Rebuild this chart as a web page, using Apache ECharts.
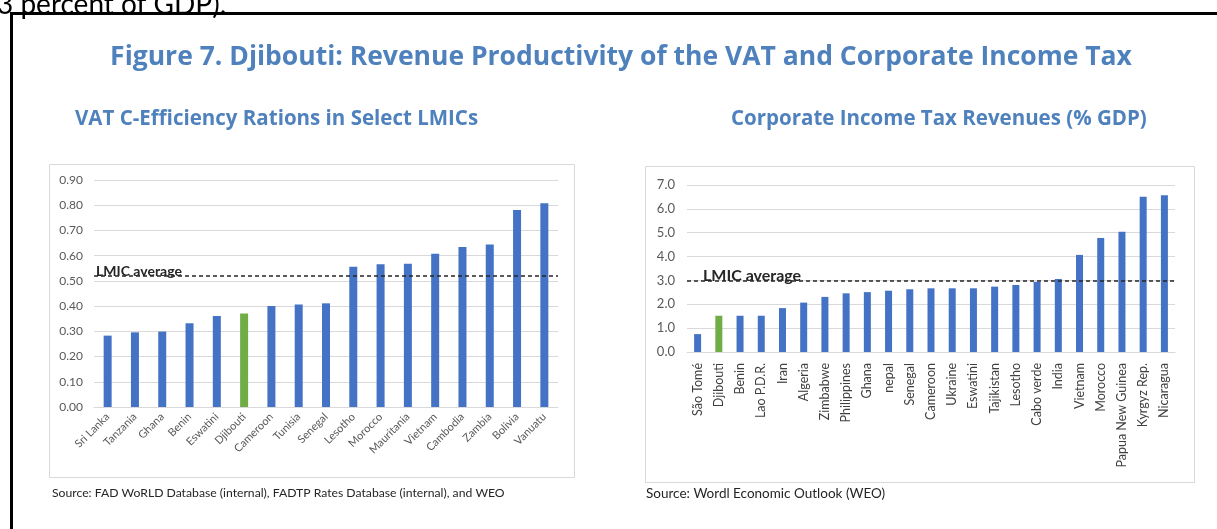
<!DOCTYPE html>
<html>
<head>
<meta charset="utf-8">
<title>Figure 7. Djibouti</title>
<script src="https://cdn.jsdelivr.net/npm/echarts@6/dist/echarts.min.js"></script>
<style>
    html, body { margin: 0; padding: 0; background: #ffffff; }
    #chart { width: 1217px; height: 529px; }
</style>
</head>
<body>
<div id="chart"></div>
<script>
// Данные: левый график (VAT C-efficiency)
const vatCountries = ['Sri Lanka', 'Tanzania', 'Ghana', 'Benin', 'Eswatini', 'Djibouti', 'Cameroon', 'Tunisia',
    'Senegal', 'Lesotho', 'Morocco', 'Mauritania', 'Vietnam', 'Cambodia', 'Zambia', 'Bolivia', 'Vanuatu'];
const vatValues = [0.283, 0.296, 0.299, 0.332, 0.361, 0.371, 0.400, 0.406,
    0.411, 0.556, 0.566, 0.568, 0.608, 0.634, 0.644, 0.781, 0.808];
const vatTicks = ['0.00', '0.10', '0.20', '0.30', '0.40', '0.50', '0.60', '0.70', '0.80', '0.90'];
const vatAverage = 0.52;

// Данные: правый график (CIT, % ВВП)
const citCountries = ['São Tomé', 'Djibouti', 'Benin', 'Lao P.D.R.', 'Iran', 'Algeria', 'Zimbabwe', 'Philippines',
    'Ghana', 'nepal', 'Senegal', 'Cameroon', 'Ukraine', 'Eswatini', 'Tajikistan', 'Lesotho', 'Cabo verde',
    'India', 'Vietnam', 'Morocco', 'Papua New Guinea', 'Kyrgyz Rep.', 'Nicaragua'];
const citValues = [0.75, 1.52, 1.52, 1.52, 1.84, 2.07, 2.31, 2.46,
    2.51, 2.57, 2.63, 2.67, 2.67, 2.67, 2.74, 2.81, 2.94,
    3.06, 4.07, 4.78, 5.04, 6.51, 6.57];
const citTicks = ['0.0', '1.0', '2.0', '3.0', '4.0', '5.0', '6.0', '7.0'];
const citAverage = 3.0;

const HIGHLIGHT = 'Djibouti';
const BLUE = '#4472c4';
const GREEN = '#70ad47';
const GRID_COLOR = '#d9d9d9';
const TITLE_BLUE = '#4f81bd';

function barData(names, values) {
    return values.map((v, i) => ({
        value: v,
        itemStyle: { color: names[i] === HIGHLIGHT ? GREEN : BLUE }
    }));
}

// Пунктирная линия среднего по LMIC
function avgLine(value, fontSize, offsetX) {
    return {
        silent: true,
        symbol: 'none',
        lineStyle: { type: [4, 3], color: '#262626', width: 1.5 },
        label: {
            show: true,
            formatter: 'LMIC average',
            position: 'insideStartTop',
            distance: [offsetX, -3],
            fontFamily: 'Lato',
            fontWeight: 'bold',
            fontSize: fontSize,
            color: '#262626'
        },
        data: [{ yAxis: value }]
    };
}

const chart = echarts.init(document.getElementById('chart'), null, { renderer: 'canvas' });

const option = {
    animation: false,
    backgroundColor: '#ffffff',
    title: [
        {
            text: 'Figure 7. Djibouti: Revenue Productivity of the VAT and Corporate Income Tax',
            left: 621, top: 44, textAlign: 'center', padding: 0,
            textStyle: { fontFamily: 'Open Sans', fontWeight: 'bold', fontSize: 26.5, color: TITLE_BLUE }
        },
        {
            text: 'VAT C-Efficiency Rations in Select LMICs',
            left: 75, top: 109, padding: 0,
            textStyle: { fontFamily: 'Open Sans', fontWeight: 'bold', fontSize: 20.5, color: TITLE_BLUE }
        },
        {
            text: 'Corporate Income Tax Revenues (% GDP)',
            left: 731, top: 109, padding: 0,
            textStyle: { fontFamily: 'Open Sans', fontWeight: 'bold', fontSize: 20.5, color: TITLE_BLUE }
        }
    ],
    graphic: [
        // обрезанный текст сверху и чёрная рамка
        { type: 'text', left: -3, top: -9,
          style: { text: '3 percent of GDP).', font: '28px Lato', fill: '#000000' } },
        { type: 'rect', shape: { x: 10, y: 12, width: 1230, height: 3 }, style: { fill: '#000000' } },
        { type: 'rect', shape: { x: 10, y: 12, width: 3, height: 530 }, style: { fill: '#000000' } },
        // рамки графиков
        { type: 'rect', shape: { x: 49.5, y: 164.5, width: 525, height: 313 },
          style: { fill: 'none', stroke: '#d9d9d9', lineWidth: 1 } },
        { type: 'rect', shape: { x: 645.5, y: 166.5, width: 549, height: 316 },
          style: { fill: 'none', stroke: '#d9d9d9', lineWidth: 1 } },
        // источники
        { type: 'text', left: 52, top: 487,
          style: { text: 'Source: FAD WoRLD Database (internal), FADTP Rates Database (internal), and WEO',
                   font: '12.2px Lato', fill: '#262626' } },
        { type: 'text', left: 646, top: 487,
          style: { text: 'Source: Wordl Economic Outlook (WEO)', font: '13.5px Lato', fill: '#262626' } }
    ],
    grid: [
        { left: 94, top: 180, width: 464, height: 227 },
        { left: 687, top: 185, width: 488, height: 167 }
    ],
    xAxis: [
        {
            type: 'category', gridIndex: 0, data: vatCountries,
            axisLine: { lineStyle: { color: GRID_COLOR } },
            axisTick: { show: false },
            axisLabel: { interval: 0, rotate: 45, margin: 8, fontFamily: 'Lato', fontSize: 11, color: '#595959' }
        },
        {
            type: 'category', gridIndex: 1, data: citCountries,
            axisLine: { lineStyle: { color: GRID_COLOR } },
            axisTick: { show: false },
            axisLabel: { interval: 0, rotate: 90, margin: 11, fontFamily: 'Lato', fontSize: 12.5, color: '#404040' }
        }
    ],
    yAxis: [
        {
            type: 'value', gridIndex: 0, min: 0, max: 0.9, interval: 0.1,
            axisLine: { show: false }, axisTick: { show: false },
            splitLine: { lineStyle: { color: GRID_COLOR } },
            axisLabel: {
                margin: 11, fontFamily: 'Lato', fontSize: 12, color: '#595959',
                formatter: v => vatTicks[Math.round(v * 10)]
            }
        },
        {
            type: 'value', gridIndex: 1, min: 0, max: 7, interval: 1,
            axisLine: { show: false }, axisTick: { show: false },
            splitLine: { lineStyle: { color: GRID_COLOR } },
            axisLabel: {
                margin: 12, fontFamily: 'Lato', fontSize: 13, color: '#595959',
                formatter: v => citTicks[Math.round(v)]
            }
        }
    ],
    series: [
        {
            name: 'VAT C-efficiency', type: 'bar', xAxisIndex: 0, yAxisIndex: 0,
            barWidth: 8, data: barData(vatCountries, vatValues),
            markLine: avgLine(vatAverage, 14, 2)
        },
        {
            name: 'CIT revenues', type: 'bar', xAxisIndex: 1, yAxisIndex: 1,
            barWidth: 7, data: barData(citCountries, citValues),
            markLine: avgLine(citAverage, 16, 16)
        }
    ]
};

chart.setOption(option);
</script>
</body>
</html>
